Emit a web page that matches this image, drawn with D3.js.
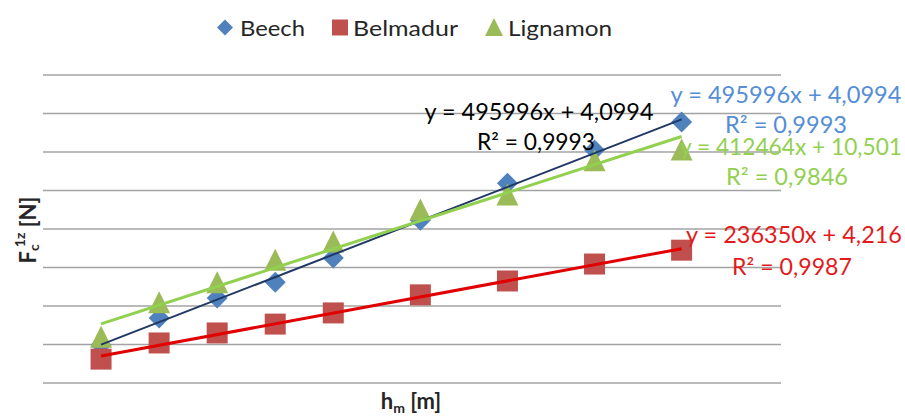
<!DOCTYPE html>
<html>
<head>
<meta charset="utf-8">
<script src="https://cdn.jsdelivr.net/npm/d3@7"></script>
<style>
  body { margin: 0; background: #fff; }
  svg { font-family: Lato, "Open Sans", sans-serif; }
</style>
</head>
<body>
<div id="chart"></div>
<script>
// series names and h_m values (m)
var seriesNames = ["Beech", "Belmadur", "Lignamon"];
var hm = [0.0000118, 0.0000236, 0.0000354, 0.0000472, 0.000059, 0.0000767, 0.0000944, 0.0001121, 0.0001298];

// F_c^1z [N]
var beech = [9.9, 16.9, 22.1, 26.2, 32.5, 42.3, 51.9, 60.5, 67.8];
var belmadur = [6.2, 10.4, 13.0, 15.3, 18.2, 22.9, 26.5, 30.9, 34.5];
var lignamon = [11.9, 20.8, 26.0, 31.9, 36.6, 44.9, 48.8, 57.7, 60.5];

// linear trend lines printed on the chart
var slopes = [495996, 236350, 412464];
var intercepts = [4.0994, 4.216, 10.501];
var eqLabels = ["y = 495996x + 4,0994", "y = 236350x + 4,216", "y = 412464x + 10,501"];
var r2Labels = ["R² = 0,9993", "R² = 0,9987", "R² = 0,9846"];

var yTicks = [0, 10, 20, 30, 40, 50, 60, 70, 80];

(function () {
    var width = 905, height = 416;
    var margin = { top: 75, right: 124, bottom: 33, left: 43 };

    var markerColors = ["#4f81bd", "#c0504d", "#9bbb59"];
    var trendColors = ["#1f3864", "#e00000", "#92d050"];
    var trendWidths = [2, 3, 3];
    var labelColors = ["#558ed5", "#e31a1c", "#92d050"];

    var svg = d3.select("#chart").append("svg")
        .attr("width", width)
        .attr("height", height);

    var x = d3.scaleLinear().domain([0, 0.00015]).range([margin.left, width - margin.right]);
    var y = d3.scaleLinear().domain([0, 80]).range([height - margin.bottom, margin.top]);

    // gridlines
    svg.append("g").selectAll("line")
        .data(yTicks)
        .enter().append("line")
        .attr("x1", x.range()[0])
        .attr("x2", x.range()[1])
        .attr("y1", d => y(d))
        .attr("y2", d => y(d))
        .attr("stroke", "#a3a3a3")
        .attr("stroke-width", 1.5);

    var shapes = [
        // diamond
        (cx, cy, s) => "M" + cx + "," + (cy - s) + "L" + (cx + s) + "," + cy + "L" + cx + "," + (cy + s) + "L" + (cx - s) + "," + cy + "Z",
        // square
        (cx, cy, s) => "M" + (cx - s) + "," + (cy - s) + "h" + (2 * s) + "v" + (2 * s) + "h" + (-2 * s) + "Z",
        // triangle
        (cx, cy, s) => "M" + cx + "," + (cy - s * 1.05) + "L" + (cx + s) + "," + (cy + s * 0.95) + "L" + (cx - s) + "," + (cy + s * 0.95) + "Z"
    ];
    var sizes = [10.5, 10.5, 11];

    var data = [beech, belmadur, lignamon];

    // markers
    data.forEach(function (vals, i) {
        svg.append("g").selectAll("path")
            .data(vals)
            .enter().append("path")
            .attr("d", (d, j) => shapes[i](x(hm[j]), y(d), sizes[i]))
            .attr("fill", markerColors[i]);
    });

    // trend lines
    var first = hm[0], last = hm[hm.length - 1];
    seriesNames.forEach(function (n, i) {
        svg.append("line")
            .attr("x1", x(first))
            .attr("y1", y(slopes[i] * first + intercepts[i]))
            .attr("x2", x(last))
            .attr("y2", y(slopes[i] * last + intercepts[i]))
            .attr("stroke", trendColors[i])
            .attr("stroke-width", trendWidths[i]);
    });

    // trend labels (index, text, centre x, baseline, width, colour)
    var labelRows = [
        [0, eqLabels[0], 539, 120, 229, "#000"],
        [0, r2Labels[0], 536, 150, 118, "#000"],
        [0, eqLabels[0], 786, 103, 231, labelColors[0]],
        [0, r2Labels[0], 786, 133, 122, labelColors[0]],
        [2, eqLabels[2], 791, 155, 222, labelColors[2]],
        [2, r2Labels[2], 787, 185, 122, labelColors[2]],
        [1, eqLabels[1], 794, 243, 216, labelColors[1]],
        [1, r2Labels[1], 792, 275, 120, labelColors[1]]
    ];
    svg.append("g").selectAll("text")
        .data(labelRows)
        .enter().append("text")
        .attr("x", d => d[2])
        .attr("y", d => d[3])
        .attr("text-anchor", "middle")
        .attr("font-size", 22.5)
        .attr("textLength", d => d[4])
        .attr("lengthAdjust", "spacingAndGlyphs")
        .attr("fill", d => d[5])
        .text(d => d[1]);

    // legend
    var legendSym = [225, 340, 494];
    var legendTxt = [[240, 65], [353, 105], [508, 104]];
    var legendSize = [8, 8, 9];
    var legend = svg.append("g");
    seriesNames.forEach(function (n, i) {
        legend.append("path")
            .attr("d", shapes[i](legendSym[i], 27.5, legendSize[i]))
            .attr("fill", markerColors[i]);
        legend.append("text")
            .attr("x", legendTxt[i][0])
            .attr("y", 36)
            .attr("font-size", 22)
            .attr("textLength", legendTxt[i][1])
            .attr("lengthAdjust", "spacingAndGlyphs")
            .attr("fill", "#262626")
            .text(n);
    });

    // axis titles
    var xt = svg.append("text")
        .attr("x", 411)
        .attr("y", 409)
        .attr("text-anchor", "middle")
        .attr("font-size", 22)
        .attr("font-weight", "bold")
        .attr("fill", "#262626");
    xt.append("tspan").text("h");
    xt.append("tspan").attr("font-size", 14).attr("dy", 4).text("m");
    xt.append("tspan").attr("dy", -4).text(" [m]");

    var yt = svg.append("text")
        .attr("transform", "translate(36,230) rotate(-90)")
        .attr("text-anchor", "middle")
        .attr("font-size", 22)
        .attr("font-weight", "bold")
        .attr("fill", "#262626");
    yt.append("tspan").text("F");
    yt.append("tspan").attr("font-size", 14).attr("dy", 3).text("c");
    yt.append("tspan").attr("font-size", 14).attr("dy", -14).attr("dx", -3).text("1z");
    yt.append("tspan").attr("dy", 11).text(" [N]");
})();
</script>
</body>
</html>
